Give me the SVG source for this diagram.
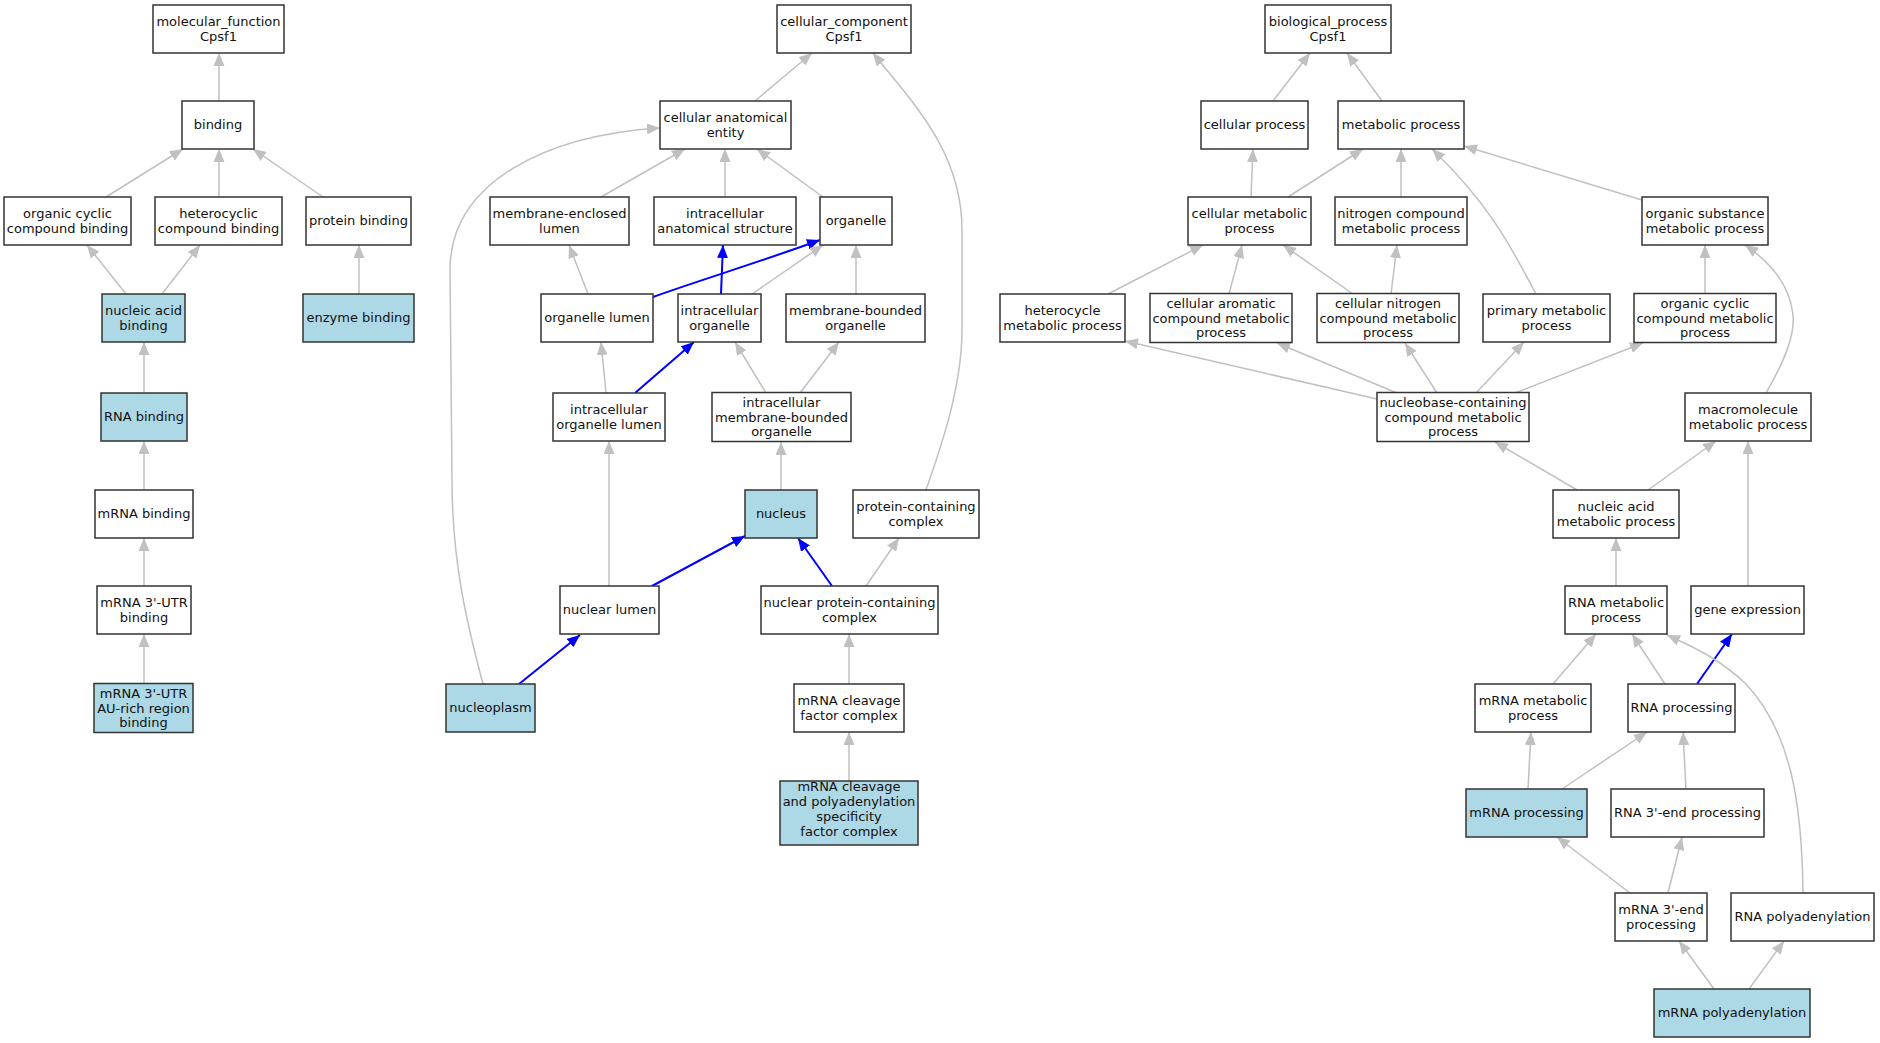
<svg xmlns="http://www.w3.org/2000/svg" width="1880" height="1043" viewBox="0 0 1880 1043">
<defs>
<marker id="ag" markerUnits="userSpaceOnUse" markerWidth="13" markerHeight="11" viewBox="0 0 13 11" refX="13" refY="5.5" orient="auto"><path d="M0,0 L13,5.5 L0,11 z" fill="#c0c0c0"/></marker>
<marker id="ab" markerUnits="userSpaceOnUse" markerWidth="13" markerHeight="11" viewBox="0 0 13 11" refX="13" refY="5.5" orient="auto"><path d="M0,0 L13,5.5 L0,11 z" fill="#0000ff"/></marker>
</defs>
<style>
rect{fill:#ffffff;stroke:#333333;stroke-width:1.5}
rect.hl{fill:#add8e6}
text{font-family:"DejaVu Sans","Liberation Sans",sans-serif;font-size:13px;fill:#111111;text-anchor:middle}
.e path{fill:none}
.g{stroke:#c0c0c0;stroke-width:1.5;marker-end:url(#ag)}
.b{stroke:#0000ff;stroke-width:2;marker-end:url(#ab)}
</style>
<rect x="0" y="0" width="1880" height="1043" style="fill:#ffffff;stroke:none"/>
<g class="e" id="connectors">
<path class="g" d="M219,101 L219,53"/>
<path class="g" d="M106,197 L183,149"/>
<path class="g" d="M219,197 L219,149"/>
<path class="g" d="M323,197 L253,149"/>
<path class="g" d="M126,294 L87,245"/>
<path class="g" d="M162,294 L200,245"/>
<path class="g" d="M359,294 L359,245"/>
<path class="g" d="M144,393 L144,342"/>
<path class="g" d="M144,490 L144,441"/>
<path class="g" d="M144,586 L144,538"/>
<path class="g" d="M144,683 L144,634"/>
<path class="g" d="M755,101 L812,53"/>
<path class="g" d="M926,490 C938,455 962,390 962,330 L962,230 C962,150 910,100 873,53"/>
<path class="g" d="M601,197 L685,149"/>
<path class="g" d="M725,197 L725,149"/>
<path class="g" d="M823,197 L757,149"/>
<path class="g" d="M588,294 L569,245"/>
<path class="b" d="M653,297 C700,280 760,262 820,240"/>
<path class="b" d="M721,294 L723,245"/>
<path class="g" d="M752,294 L823,245"/>
<path class="g" d="M856,294 L856,245"/>
<path class="g" d="M606,393 L601,342"/>
<path class="b" d="M635,393 L694,342"/>
<path class="g" d="M766,393 L735,342"/>
<path class="g" d="M800,393 L839,342"/>
<path class="g" d="M781,490 L781,442"/>
<path class="g" d="M609,586 L609,441"/>
<path class="b" d="M652,586 L745,536"/>
<path class="b" d="M832,586 L798,538"/>
<path class="g" d="M866,586 L899,538"/>
<path class="b" d="M519,684 L580,635"/>
<path class="g" d="M483,684 C466,620 452,560 452,480 L450,270 C450,180 550,135 660,128"/>
<path class="g" d="M849,684 L849,634"/>
<path class="g" d="M849,781 L849,732"/>
<path class="g" d="M1273,101 L1310,53"/>
<path class="g" d="M1382,101 L1347,53"/>
<path class="g" d="M1251,197 L1253,149"/>
<path class="g" d="M1288,197 L1363,149"/>
<path class="g" d="M1401,197 L1401,149"/>
<path class="g" d="M1642,200 L1464,146"/>
<path class="g" d="M1108,294 L1203,245"/>
<path class="g" d="M1229,294 L1242,245"/>
<path class="g" d="M1353,294 L1283,245"/>
<path class="g" d="M1391,294 L1397,245"/>
<path class="g" d="M1536,294 C1510,245 1490,205 1432,149"/>
<path class="g" d="M1705,294 L1705,245"/>
<path class="g" d="M1377,399 L1125,341"/>
<path class="g" d="M1397,393 L1277,343"/>
<path class="g" d="M1437,393 L1405,343"/>
<path class="g" d="M1476,393 L1524,342"/>
<path class="g" d="M1515,393 L1643,343"/>
<path class="g" d="M1766,393 C1785,360 1795,335 1793,315 C1790,285 1770,262 1745,245"/>
<path class="g" d="M1577,490 L1495,442"/>
<path class="g" d="M1648,490 L1716,441"/>
<path class="g" d="M1748,586 L1748,441"/>
<path class="g" d="M1616,586 L1616,538"/>
<path class="g" d="M1553,684 L1596,634"/>
<path class="g" d="M1665,684 L1632,634"/>
<path class="b" d="M1697,684 L1732,634"/>
<path class="g" d="M1803,893 C1802,800 1790,730 1745,683 C1720,660 1700,650 1667,635"/>
<path class="g" d="M1528,789 L1531,732"/>
<path class="g" d="M1562,789 L1647,732"/>
<path class="g" d="M1686,789 L1683,732"/>
<path class="g" d="M1630,893 L1557,837"/>
<path class="g" d="M1668,893 L1682,837"/>
<path class="g" d="M1714,989 L1679,941"/>
<path class="g" d="M1749,989 L1784,941"/>
</g>
<g id="molecular_function"><rect x="153" y="5" width="131" height="48"/><text x="218.5" y="26.2">molecular_function<tspan x="218.5" dy="14.7">Cpsf1</tspan></text></g>
<g id="binding"><rect x="182" y="101" width="72" height="48"/><text x="218" y="129">binding</text></g>
<g id="organic_cyclic_compound_binding"><rect x="4" y="197" width="127" height="48"/><text x="67.5" y="218.2">organic cyclic<tspan x="67.5" dy="14.7">compound binding</tspan></text></g>
<g id="heterocyclic_compound_binding"><rect x="155" y="197" width="127" height="48"/><text x="218.5" y="218.2">heterocyclic<tspan x="218.5" dy="14.7">compound binding</tspan></text></g>
<g id="protein_binding"><rect x="306" y="197" width="105" height="48"/><text x="358.5" y="225">protein binding</text></g>
<g id="nucleic_acid_binding"><rect class="hl" x="102" y="294" width="83" height="48"/><text x="143.5" y="315.2">nucleic acid<tspan x="143.5" dy="14.7">binding</tspan></text></g>
<g id="enzyme_binding"><rect class="hl" x="303" y="294" width="111" height="48"/><text x="358.5" y="322">enzyme binding</text></g>
<g id="RNA_binding"><rect class="hl" x="101" y="393" width="86" height="48"/><text x="144" y="421">RNA binding</text></g>
<g id="mRNA_binding"><rect x="95" y="490" width="98" height="48"/><text x="144" y="518">mRNA binding</text></g>
<g id="mRNA_3UTR_binding"><rect x="97" y="586" width="94" height="48"/><text x="144" y="607.2">mRNA 3'-UTR<tspan x="144" dy="14.7">binding</tspan></text></g>
<g id="mRNA_3UTR_AU_rich_region_binding"><rect class="hl" x="94" y="683.5" width="99" height="49"/><text x="143.5" y="697.8">mRNA 3'-UTR<tspan x="143.5" dy="14.7">AU-rich region</tspan><tspan x="143.5" dy="14.7">binding</tspan></text></g>

<g id="cellular_component"><rect x="777" y="5" width="134" height="48"/><text x="844" y="26.2">cellular_component<tspan x="844" dy="14.7">Cpsf1</tspan></text></g>
<g id="cellular_anatomical_entity"><rect x="660" y="101" width="131" height="48"/><text x="725.5" y="122.2">cellular anatomical<tspan x="725.5" dy="14.7">entity</tspan></text></g>
<g id="membrane_enclosed_lumen"><rect x="490" y="197" width="139" height="48"/><text x="559.5" y="218.2">membrane-enclosed<tspan x="559.5" dy="14.7">lumen</tspan></text></g>
<g id="intracellular_anatomical_structure"><rect x="654" y="197" width="142" height="48"/><text x="725" y="218.2">intracellular<tspan x="725" dy="14.7">anatomical structure</tspan></text></g>
<g id="organelle"><rect x="820" y="197" width="72" height="48"/><text x="856" y="225">organelle</text></g>
<g id="organelle_lumen"><rect x="541" y="294" width="112" height="48"/><text x="597" y="322">organelle lumen</text></g>
<g id="intracellular_organelle"><rect x="678" y="294" width="83" height="48"/><text x="719.5" y="315.2">intracellular<tspan x="719.5" dy="14.7">organelle</tspan></text></g>
<g id="membrane_bounded_organelle"><rect x="786" y="294" width="139" height="48"/><text x="855.5" y="315.2">membrane-bounded<tspan x="855.5" dy="14.7">organelle</tspan></text></g>
<g id="intracellular_organelle_lumen"><rect x="553" y="393" width="112" height="48"/><text x="609" y="414.2">intracellular<tspan x="609" dy="14.7">organelle lumen</tspan></text></g>
<g id="intracellular_membrane_bounded_organelle"><rect x="712" y="392.5" width="139" height="49"/><text x="781.5" y="406.8">intracellular<tspan x="781.5" dy="14.7">membrane-bounded</tspan><tspan x="781.5" dy="14.7">organelle</tspan></text></g>
<g id="nucleus"><rect class="hl" x="745" y="490" width="72" height="48"/><text x="781" y="518">nucleus</text></g>
<g id="protein_containing_complex"><rect x="853" y="490" width="126" height="48"/><text x="916" y="511.2">protein-containing<tspan x="916" dy="14.7">complex</tspan></text></g>
<g id="nuclear_lumen"><rect x="560" y="586" width="99" height="48"/><text x="609.5" y="614">nuclear lumen</text></g>
<g id="nuclear_protein_containing_complex"><rect x="761" y="586" width="177" height="48"/><text x="849.5" y="607.2">nuclear protein-containing<tspan x="849.5" dy="14.7">complex</tspan></text></g>
<g id="nucleoplasm"><rect class="hl" x="446" y="684" width="89" height="48"/><text x="490.5" y="712">nucleoplasm</text></g>
<g id="mRNA_cleavage_factor_complex"><rect x="794" y="684" width="110" height="48"/><text x="849" y="705.2">mRNA cleavage<tspan x="849" dy="14.7">factor complex</tspan></text></g>
<g id="mRNA_cleavage_and_polyadenylation_specificity_factor_complex"><rect class="hl" x="780" y="781" width="138" height="64"/><text x="849" y="791.4">mRNA cleavage<tspan x="849" dy="14.7">and polyadenylation</tspan><tspan x="849" dy="14.7">specificity</tspan><tspan x="849" dy="14.7">factor complex</tspan></text></g>

<g id="biological_process"><rect x="1265" y="5" width="126" height="48"/><text x="1328" y="26.2">biological_process<tspan x="1328" dy="14.7">Cpsf1</tspan></text></g>
<g id="cellular_process"><rect x="1201" y="101" width="107" height="48"/><text x="1254.5" y="129">cellular process</text></g>
<g id="metabolic_process"><rect x="1338" y="101" width="126" height="48"/><text x="1401" y="129">metabolic process</text></g>
<g id="cellular_metabolic_process"><rect x="1188" y="197" width="123" height="48"/><text x="1249.5" y="218.2">cellular metabolic<tspan x="1249.5" dy="14.7">process</tspan></text></g>
<g id="nitrogen_compound_metabolic_process"><rect x="1335" y="197" width="132" height="48"/><text x="1401" y="218.2">nitrogen compound<tspan x="1401" dy="14.7">metabolic process</tspan></text></g>
<g id="organic_substance_metabolic_process"><rect x="1642" y="197" width="126" height="48"/><text x="1705" y="218.2">organic substance<tspan x="1705" dy="14.7">metabolic process</tspan></text></g>
<g id="heterocycle_metabolic_process"><rect x="1000" y="294" width="125" height="48"/><text x="1062.5" y="315.2">heterocycle<tspan x="1062.5" dy="14.7">metabolic process</tspan></text></g>
<g id="cellular_aromatic_compound_metabolic_process"><rect x="1150" y="293.5" width="142" height="49"/><text x="1221" y="307.8">cellular aromatic<tspan x="1221" dy="14.7">compound metabolic</tspan><tspan x="1221" dy="14.7">process</tspan></text></g>
<g id="cellular_nitrogen_compound_metabolic_process"><rect x="1317" y="293.5" width="142" height="49"/><text x="1388" y="307.8">cellular nitrogen<tspan x="1388" dy="14.7">compound metabolic</tspan><tspan x="1388" dy="14.7">process</tspan></text></g>
<g id="primary_metabolic_process"><rect x="1483" y="294" width="127" height="48"/><text x="1546.5" y="315.2">primary metabolic<tspan x="1546.5" dy="14.7">process</tspan></text></g>
<g id="organic_cyclic_compound_metabolic_process"><rect x="1634" y="293.5" width="142" height="49"/><text x="1705" y="307.8">organic cyclic<tspan x="1705" dy="14.7">compound metabolic</tspan><tspan x="1705" dy="14.7">process</tspan></text></g>
<g id="nucleobase_containing_compound_metabolic_process"><rect x="1377" y="392.5" width="152" height="49"/><text x="1453" y="406.8">nucleobase-containing<tspan x="1453" dy="14.7">compound metabolic</tspan><tspan x="1453" dy="14.7">process</tspan></text></g>
<g id="macromolecule_metabolic_process"><rect x="1685" y="393" width="126" height="48"/><text x="1748" y="414.2">macromolecule<tspan x="1748" dy="14.7">metabolic process</tspan></text></g>
<g id="nucleic_acid_metabolic_process"><rect x="1553" y="490" width="126" height="48"/><text x="1616" y="511.2">nucleic acid<tspan x="1616" dy="14.7">metabolic process</tspan></text></g>
<g id="RNA_metabolic_process"><rect x="1565" y="586" width="102" height="48"/><text x="1616" y="607.2">RNA metabolic<tspan x="1616" dy="14.7">process</tspan></text></g>
<g id="gene_expression"><rect x="1691" y="586" width="113" height="48"/><text x="1747.5" y="614">gene expression</text></g>
<g id="mRNA_metabolic_process"><rect x="1475" y="684" width="116" height="48"/><text x="1533" y="705.2">mRNA metabolic<tspan x="1533" dy="14.7">process</tspan></text></g>
<g id="RNA_processing"><rect x="1628" y="684" width="107" height="48"/><text x="1681.5" y="712">RNA processing</text></g>
<g id="mRNA_processing"><rect class="hl" x="1466" y="789" width="121" height="48"/><text x="1526.5" y="817">mRNA processing</text></g>
<g id="RNA_3_end_processing"><rect x="1611" y="789" width="153" height="48"/><text x="1687.5" y="817">RNA 3'-end processing</text></g>
<g id="mRNA_3_end_processing"><rect x="1615" y="893" width="92" height="48"/><text x="1661" y="914.2">mRNA 3'-end<tspan x="1661" dy="14.7">processing</tspan></text></g>
<g id="RNA_polyadenylation"><rect x="1731" y="893" width="143" height="48"/><text x="1802.5" y="921">RNA polyadenylation</text></g>
<g id="mRNA_polyadenylation"><rect class="hl" x="1654" y="989" width="156" height="48"/><text x="1732" y="1017">mRNA polyadenylation</text></g>
</svg>
